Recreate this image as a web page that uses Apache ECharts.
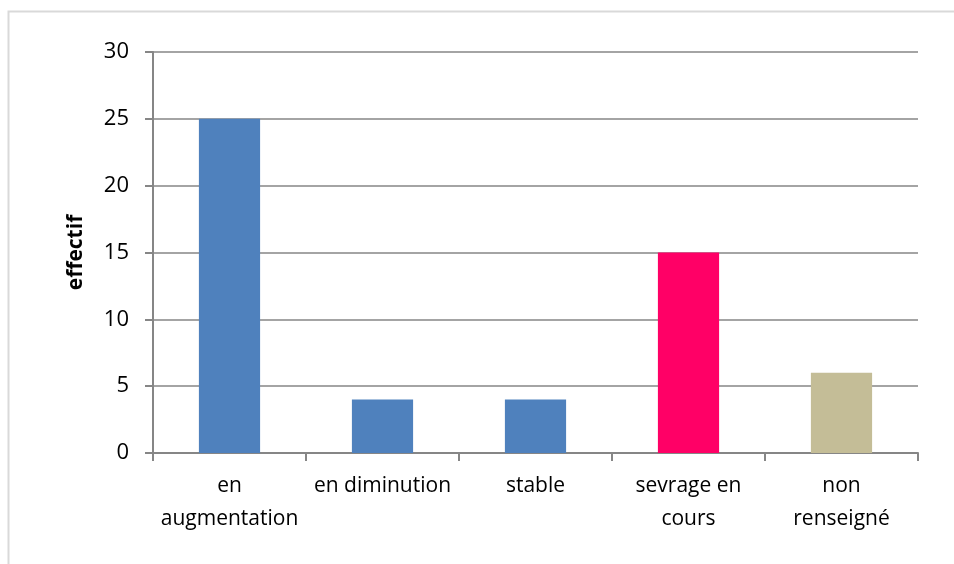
<!DOCTYPE html>
<html>
<head>
<meta charset="utf-8">
<script src="https://cdn.jsdelivr.net/npm/echarts@6/dist/echarts.min.js"></script>
<style>
html, body { margin:0; padding:0; background:#fff; }
#chart { width:954px; height:564px; }
</style>
</head>
<body>
<div id="chart"></div>
<script>
// données
var categories = ['en\naugmentation', 'en diminution', 'stable', 'sevrage en\ncours', 'non\nrenseigné'];
var values = [25, 4, 4, 15, 6];
var barColors = ['#4F81BD', '#4F81BD', '#4F81BD', '#FF0066', '#C4BD97'];
var yTicks = [0, 5, 10, 15, 20, 25, 30];

var font = '"Open Sans", "Liberation Sans", sans-serif';

let chart = echarts.init(document.getElementById('chart'));
chart.setOption({
  animation: false,
  graphic: [{
    type: 'rect',
    shape: { x: 8.5, y: 11.5, width: 1000, height: 600 },
    style: { fill: 'none', stroke: '#D9D9D9', lineWidth: 2 }
  }],
  grid: { left: 153, right: 36, top: 52, bottom: 111 },
  xAxis: {
    type: 'category',
    data: categories,
    axisLine: { lineStyle: { color: '#868686', width: 2 } },
    axisTick: { show: true, length: 8, lineStyle: { color: '#868686', width: 2 } },
    axisLabel: {
      color: '#000', fontSize: 21, fontFamily: font,
      lineHeight: 33, margin: 17, interval: 0
    }
  },
  yAxis: {
    type: 'value',
    min: yTicks[0],
    max: yTicks[yTicks.length - 1],
    interval: 5,
    name: 'effectif',
    nameLocation: 'middle',
    nameGap: 66,
    nameRotate: 90,
    nameTextStyle: { color: '#000', fontSize: 21, fontWeight: 'bold', fontFamily: font },
    axisLine: { show: true, lineStyle: { color: '#868686', width: 2 } },
    axisTick: { show: true, length: 8, lineStyle: { color: '#868686', width: 2 } },
    axisLabel: { color: '#000', fontSize: 22, fontFamily: font, margin: 24 },
    splitLine: { lineStyle: { color: '#868686', width: 1.5 } }
  },
  series: [{
    type: 'bar',
    barWidth: '40%',
    data: values.map(function (v, i) {
      return { value: v, itemStyle: { color: barColors[i] } };
    })
  }]
});
</script>
</body>
</html>
